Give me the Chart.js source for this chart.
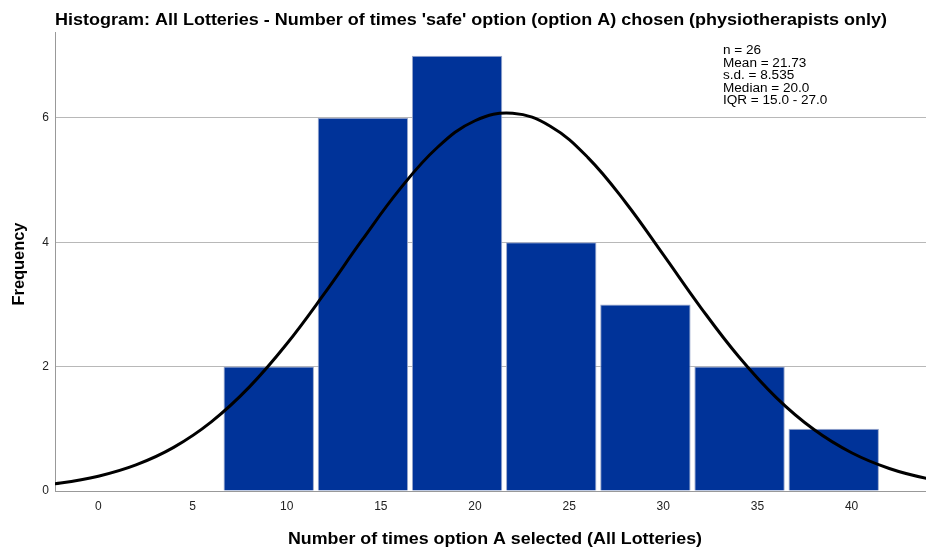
<!DOCTYPE html>
<html lang="en">
<head>
    <meta charset="UTF-8">
    <title>Histogram - option A chosen</title>
    <script src="https://cdn.jsdelivr.net/npm/chart.js"></script>
</head>
<body style="margin:0;background:#fff;">
    <canvas id="hist" width="926" height="550" style="display:block;"></canvas>
    <script>
        // data
        const binCenters = [9.05, 14.05, 19.05, 24.05, 29.05, 34.05, 39.05];
        const frequencies = [2, 6, 7, 4, 3, 2, 1];
        const curveX = [-4, -2, 0, 2, 4, 6, 8, 10, 12, 14, 16, 18, 20, 22, 24, 26, 28, 30, 32, 34, 36, 38, 40, 42, 44, 46];
        const curveY = [0.065, 0.127, 0.238, 0.42, 0.702, 1.112, 1.666, 2.363, 3.173, 4.032, 4.85, 5.523, 5.953, 6.073, 5.865, 5.361, 4.639, 3.8, 2.946, 2.162, 1.502, 0.988, 0.615, 0.362, 0.202, 0.107];
        const xTicks = [0, 5, 10, 15, 20, 25, 30, 35, 40];
        const yTicks = [0, 2, 4, 6];
        const statLines = ['n = 26', 'Mean = 21.73', 's.d. = 8.535', 'Median = 20.0', 'IQR = 15.0 - 27.0'];

        const titleText = "Histogram: All Lotteries - Number of times 'safe' option (option A) chosen (physiotherapists only)";
        const xTitle = 'Number of times option A selected (All Lotteries)';
        const yTitle = 'Frequency';
        const FONT = '"Liberation Sans", Arial, sans-serif';

        // SPSS text runs a bit wider than Liberation, so stretch to the measured width
        function wideText(ctx, text, x, y, width, align) {
            const w = ctx.measureText(text).width;
            const k = width / w;
            ctx.save();
            ctx.textAlign = 'left';
            let left = x;
            if (align === 'center') left = x - width / 2;
            ctx.translate(left, y);
            ctx.scale(k, 1);
            ctx.fillText(text, 0, 0);
            ctx.restore();
        }

        const textPlugin = {
            id: 'texts',
            afterDraw(chart) {
                const ctx = chart.ctx;
                const area = chart.chartArea;
                ctx.save();
                ctx.fillStyle = '#000';
                ctx.font = 'bold 16px ' + FONT;
                ctx.textBaseline = 'alphabetic';
                wideText(ctx, titleText, area.left, 25, 832, 'left');
                wideText(ctx, xTitle, 495, 544, 414, 'center');

                ctx.translate(24, 264);
                ctx.rotate(-Math.PI / 2);
                wideText(ctx, yTitle, 0, 0, 83, 'center');
                ctx.restore();

                ctx.save();
                ctx.fillStyle = '#000';
                ctx.font = '12px ' + FONT;
                statLines.forEach((line, i) => {
                    const w = ctx.measureText(line).width;
                    wideText(ctx, line, 723, 54 + i * 12.6, w * 1.13, 'left');
                });
                ctx.restore();
            }
        };

        new Chart(document.getElementById('hist'), {
            type: 'bar',
            data: {
                datasets: [
                    {
                        type: 'line',
                        data: curveX.map((x, i) => ({ x: x, y: curveY[i] })),
                        borderColor: '#000',
                        borderWidth: 3,
                        pointRadius: 0,
                        tension: 0.4,
                        fill: false,
                        order: 0
                    },
                    {
                        type: 'bar',
                        data: binCenters.map((x, i) => ({ x: x, y: frequencies[i] })),
                        backgroundColor: '#003399',
                        borderColor: '#9aa8cc',
                        borderWidth: 1,
                        barPercentage: 0.96,
                        categoryPercentage: 1,
                        order: 1
                    }
                ]
            },
            options: {
                responsive: false,
                animation: false,
                layout: { padding: { top: 32, right: 0, left: 0, bottom: 0 } },
                plugins: {
                    legend: { display: false },
                    tooltip: { enabled: false },
                    title: { display: false }
                },
                scales: {
                    x: {
                        type: 'linear',
                        offset: false,
                        min: -2.3,
                        max: 43.95,
                        afterBuildTicks: (s) => { s.ticks = xTicks.map(v => ({ value: v })); },
                        afterFit: (s) => { s.height = 59; },
                        grid: { display: false, drawTicks: false },
                        border: { display: true, color: '#999', width: 1 },
                        ticks: {
                            padding: 8,
                            color: '#222',
                            font: { family: FONT, size: 12 },
                            maxRotation: 0
                        }
                    },
                    y: {
                        min: 0,
                        max: 7.38,
                        afterBuildTicks: (s) => { s.ticks = yTicks.map(v => ({ value: v })); },
                        afterFit: (s) => { s.width = 55; },
                        grid: { color: '#b8b8b8', drawTicks: false },
                        border: { display: true, color: '#999', width: 1 },
                        ticks: {
                            padding: 6,
                            color: '#222',
                            font: { family: FONT, size: 12 }
                        }
                    }
                }
            },
            plugins: [textPlugin]
        });
    </script>
</body>
</html>
